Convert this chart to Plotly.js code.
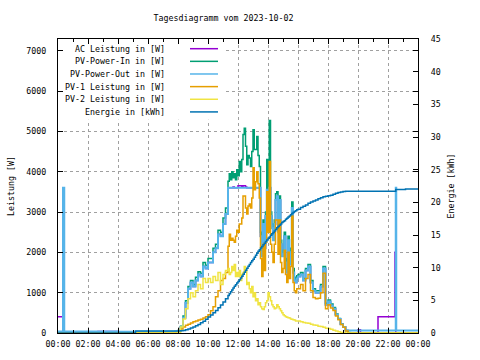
<!DOCTYPE html>
<html><head><meta charset="utf-8">
<script src="https://cdn.plot.ly/plotly-3.0.1.min.js"></script>
<style>html,body{margin:0;padding:0;background:#fff}#chart{width:480px;height:360px}</style>
</head><body><div id="chart"></div>
<script>
const chartDate = "2023-10-02";
const nextDate = "2023-10-03";
const titleText = "Tagesdiagramm vom 2023-10-02";

const times = [
 "00:00","00:20","00:25","02:40","04:00","05:10","07:30","07:50",
 "08:00","08:10","08:20","08:30","08:40","08:50",
 "09:00","09:10","09:20","09:30","09:40","09:50",
 "10:00","10:10","10:20","10:30","10:40","10:50",
 "11:00","11:10",
 "11:20","11:25","11:30","11:35","11:40","11:45","11:50","11:55",
 "12:00","12:05","12:10","12:15","12:20","12:25","12:30","12:35","12:40","12:45","12:50","12:55",
 "13:00","13:05","13:10","13:15","13:20","13:25","13:30","13:35","13:40","13:45","13:50","13:55",
 "14:00","14:05","14:10","14:15","14:20","14:25","14:30","14:35","14:40","14:45","14:50","14:55",
 "15:00","15:05","15:10","15:15","15:20","15:25","15:30","15:35","15:40","15:45","15:50","15:55",
 "16:00","16:10","16:20","16:30","16:40","16:50",
 "17:00","17:10","17:20","17:30","17:40","17:50",
 "18:00","18:10","18:20","18:30","18:40","18:50",
 "19:00","19:10","19:20","19:30","19:40","19:50",
 "20:00","20:10","21:20","22:28","22:31","22:33","23:10","24:00"
];

const acLeistung = [
 400,0,0,40,0,0,0,0,
 50,150,380,750,1100,1250,
 1150,1300,1450,1400,1650,1600,
 1750,1750,2000,2100,2450,2400,
 2700,2950,
 3600,3600,3600,3600,3620,3600,3600,3600,
 3650,3650,3650,3620,3650,3650,3620,3600,3600,3600,3600,3600,
 3600,3600,3600,3600,3600,3600,2400,1900,2700,2100,2900,3550,
 3400,3600,2900,2600,2300,2700,3300,3390,2500,3300,2200,1900,
 1950,2400,1750,1500,2300,1700,2000,3100,1500,1300,1250,1350,
 1400,1450,1300,1550,1650,1250,
 1050,1000,1000,1150,1600,700,
 780,680,600,450,350,220,
 150,60,0,0,0,0,
 80,0,400,2000,0,0,0,0
];

const pvPowerIn = [
 0,0,0,0,0,0,10,30,
 60,170,420,800,1150,1300,
 1200,1380,1520,1480,1750,1680,
 1850,1850,2100,2200,2550,2500,
 2850,3100,
 3760,3950,3800,4000,3850,3950,3800,4050,
 3900,4250,4000,4300,4920,5080,4630,4170,4400,4340,4130,4500,
 5040,4550,4550,4870,4400,4130,2500,2000,2800,2200,3000,4300,
 3500,5270,3000,2700,2400,2800,3450,3500,2600,3400,2300,2000,
 2050,2500,1850,1580,2400,1780,2100,3250,1600,1380,1300,1420,
 1450,1500,1350,1600,1700,1300,
 1100,1050,1050,1200,1650,740,
 820,720,630,470,360,230,
 150,60,10,0,0,0,
 0,0,0,0,0,0,0,0
];

const pvPowerOut = [
 40,3600,40,40,30,30,30,40,
 50,150,380,750,1100,1250,
 1150,1300,1450,1400,1650,1600,
 1750,1750,2000,2100,2450,2400,
 2700,2950,
 3600,3600,3600,3600,3600,3600,3600,3600,
 3600,3600,3600,3600,3600,3600,3600,3600,3600,3600,3600,3600,
 3600,3600,3600,3600,3600,3600,2400,1900,2700,2100,2900,3550,
 3400,3600,2900,2600,2300,2700,3300,3390,2500,3300,2200,1900,
 1950,2400,1750,1500,2300,1700,2000,3100,1500,1300,1250,1350,
 1400,1450,1300,1550,1650,1250,
 1050,1000,1000,1150,1600,700,
 780,680,600,450,350,220,
 150,60,60,60,60,60,
 60,60,60,60,3600,60,60,60
];

const pv1Leistung = [
 0,0,0,0,0,0,0,0,
 30,100,150,190,220,250,
 280,300,320,340,370,400,
 450,550,650,900,1050,1300,
 1350,1500,
 2150,2450,2300,2350,2300,2250,2400,2550,
 2500,2700,2700,2850,3400,3400,3100,2950,3150,3200,3100,3350,
 4100,3550,3750,4000,3700,3350,1850,1400,2200,1550,2250,3500,
 2500,4250,2200,2000,1750,2200,2800,2800,1950,2800,1750,1500,
 1600,2050,1450,1250,2000,1350,1650,2900,1250,1050,1000,1100,
 1100,1200,1050,1350,1450,1050,
 880,850,860,1000,1480,600,
 700,620,560,420,330,210,
 140,50,0,0,0,0,
 0,0,0,0,0,0,0,0
];

const pv2Leistung = [
 0,0,0,0,0,0,0,0,
 20,150,350,600,850,1000,
 900,1050,1200,1100,1350,1250,
 1350,1250,1400,1300,1500,1200,
 1450,1550,
 1600,1450,1500,1650,1550,1700,1400,1500,
 1400,1550,1300,1450,1500,1650,1550,1200,1250,1100,1000,1150,
 900,1000,800,850,700,750,650,600,580,650,750,800,
 1000,900,800,700,650,600,620,700,650,600,550,500,
 450,430,400,390,380,370,350,340,330,320,300,300,
 300,280,260,250,240,220,
 200,190,170,160,140,120,
 110,90,70,50,30,15,
 5,0,0,0,0,0,
 0,0,0,0,0,0,0,0
];

const energie = [
 0,0,0,0,0,0.3,0.3,0.3,
 0.3,0.35,0.4,0.5,0.6,0.75,
 0.9,1.1,1.3,1.55,1.8,2.1,
 2.45,2.75,3.1,3.45,3.85,4.3,
 4.75,5.25,
 5.75,6.0,6.3,6.6,6.9,7.15,7.4,7.65,
 7.9,8.15,8.4,8.7,9.0,9.3,9.6,9.9,10.2,10.5,10.8,11.05,
 11.3,11.6,11.9,12.2,12.5,12.75,13.0,13.25,13.5,13.75,14.0,14.25,
 14.5,14.7,14.95,15.2,15.4,15.6,15.85,16.1,16.3,16.5,16.7,16.9,
 17.05,17.2,17.4,17.55,17.75,17.9,18.1,18.3,18.45,18.6,18.7,18.85,
 18.95,19.2,19.4,19.6,19.85,20.05,
 20.2,20.35,20.55,20.7,20.85,20.95,
 21.0,21.1,21.25,21.4,21.5,21.6,
 21.65,21.7,21.7,21.7,21.7,21.7,
 21.7,21.7,21.7,21.7,21.95,21.95,22.05,22.05
];

const seriesNames = [
 "AC Leistung in [W]",
 "PV-Power-In in [W]",
 "PV-Power-Out in [W]",
 "PV-1 Leistung in [W]",
 "PV-2 Leistung in [W]",
 "Energie in [kWh]"
];
const seriesColors = ["#9400d3","#009e73","#56b4e9","#e69f00","#f0e442","#0072b2"];
const seriesWidths = [1.5,1.5,2,1.5,1.5,1.5];
const seriesData = [acLeistung,pvPowerIn,pvPowerOut,pv1Leistung,pv2Leistung,energie];
const seriesAxis = ["y","y","y","y","y","y2"];

const xDates = times.map(t => t === "24:00" ? nextDate + " 00:00" : chartDate + " " + t);

const FONT = "DejaVu Sans Mono, Liberation Mono, monospace";
const FS = 8.3;

const traces = seriesData.map((vals, i) => ({
  type: "scatter", mode: "lines", name: seriesNames[i],
  x: xDates, y: vals, yaxis: seriesAxis[i],
  line: {color: seriesColors[i], width: seriesWidths[i], shape: "hv"},
  hoverinfo: "skip"
}));

// legend drawn like the original: opaque box (no border), text right-aligned, sample line to the right
const annotations = [];
const shapes = [{type:"rect", xref:"paper", yref:"paper", x0:0.0167, x1:0.4639, y0:0.7255, y1:0.9806,
  fillcolor:"#ffffff", line:{width:0}, layer:"above"}];
const legTop = 0.967, legStep = 0.0430;
seriesNames.forEach((n, i) => {
  const yy = legTop - i * legStep;
  annotations.push({xref:"paper", yref:"paper", x:0.3028, y:yy, xanchor:"right", yanchor:"middle",
    text:n, showarrow:false, font:{family:FONT, size:FS, color:"#000"}});
  shapes.push({type:"line", xref:"paper", yref:"paper", x0:0.3667, x1:0.4444, y0:yy, y1:yy,
    line:{color:seriesColors[i], width:1.5}, layer:"above"});
});

const gridStyle = {showgrid:true, gridcolor:"#a0a0a0", gridwidth:1, griddash:"3px,3px"};

const layout = {
  width:480, height:360,
  margin:{l:58, r:62, t:39, b:27, pad:0},
  paper_bgcolor:"#ffffff", plot_bgcolor:"#ffffff",
  showlegend:false,
  font:{family:FONT, size:FS, color:"#000"},
  title:{text:titleText, xref:"container", x:0.4656, xanchor:"center", yref:"container", y:0.95, yanchor:"middle",
    font:{family:FONT, size:FS, color:"#000"}},
  xaxis:Object.assign({
    type:"date", range:[chartDate+" 00:00", nextDate+" 00:00"],
    tickformat:"%H:%M", tick0:chartDate+" 00:00", dtick:7200000,
    ticks:"inside", ticklen:5, tickcolor:"#000", tickwidth:1,
    showline:true, linecolor:"#000", linewidth:1, mirror:"ticks",
    zeroline:false, fixedrange:true, ticklabelstandoff:3,
    minor:{dtick:3600000, tick0:chartDate+" 00:00", ticks:"inside", ticklen:3, tickcolor:"#000", showgrid:false},
    tickfont:{family:FONT, size:FS, color:"#000"}
  }, gridStyle),
  yaxis:Object.assign({
    range:[0,7290], tick0:0, dtick:1000,
    ticks:"inside", ticklen:5, tickcolor:"#000",
    showline:true, linecolor:"#000", linewidth:1, mirror:"ticks",
    zeroline:false, fixedrange:true, ticklabelstandoff:9,
    tickfont:{family:FONT, size:FS, color:"#000"},
    title:{text:"Leistung [W]", standoff:10, font:{family:FONT, size:FS, color:"#000"}}
  }, gridStyle),
  yaxis2:{
    overlaying:"y", side:"right", range:[0,45], tick0:0, dtick:5,
    ticks:"inside", ticklen:5, tickcolor:"#000",
    showline:true, linecolor:"#000", linewidth:1,
    showgrid:false, zeroline:false, fixedrange:true, ticklabelstandoff:10,
    tickfont:{family:FONT, size:FS, color:"#000"},
    title:{text:"Energie [kWh]", standoff:8, font:{family:FONT, size:FS, color:"#000"}}
  },
  annotations:annotations,
  shapes:shapes
};

Plotly.newPlot("chart", traces, layout, {staticPlot:true, displayModeBar:false});
</script>
</body></html>
